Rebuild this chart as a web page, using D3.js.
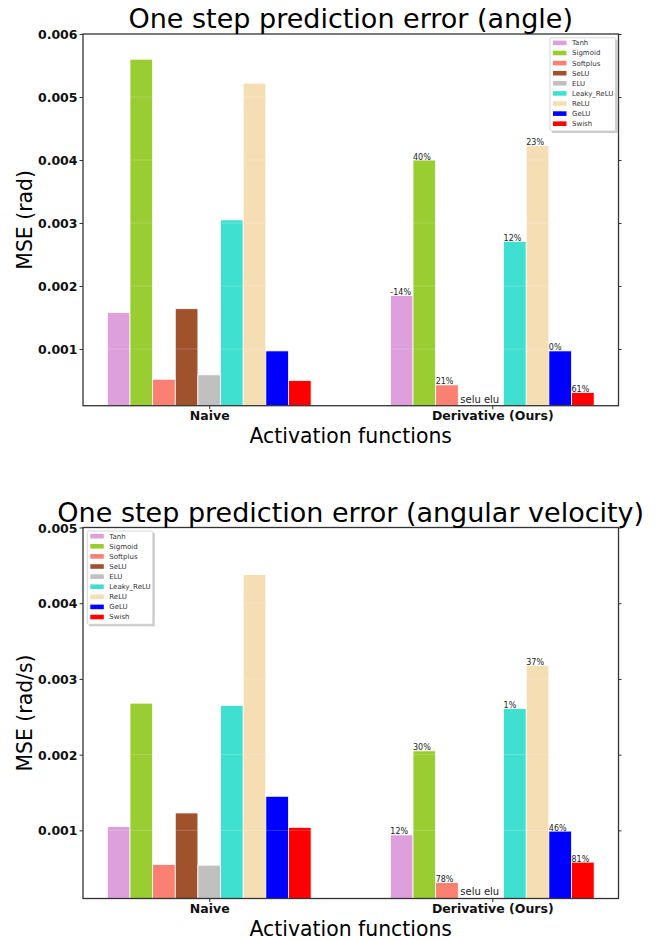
<!DOCTYPE html>
<html>
<head>
<meta charset="utf-8">
<script src="https://cdn.jsdelivr.net/npm/d3@7"></script>
<style>
    body { margin: 0; background: #fff; }
    svg { display: block; font-family: "DejaVu Sans", sans-serif; }
</style>
</head>
<body>
<svg id="chart" width="671" height="940"></svg>
<script>
/**
 * Data.
 */
const activations = ['Tanh', 'Sigmoid', 'Softplus', 'SeLU', 'ELU', 'Leaky_ReLU', 'ReLU', 'GeLU', 'Swish'];
const groups = ['Naive', 'Derivative (Ours)'];

// One step prediction error, angle (rad)
const angleNaive = [0.00158, 0.00560, 0.00052, 0.00164, 0.00059, 0.00305, 0.00522, 0.00097, 0.00050];
const angleDerivative = [0.00185, 0.00400, 0.00043, null, null, 0.00271, 0.00423, 0.00097, 0.00031];
const angleLabels = ['-14%', '40%', '21%', null, null, '12%', '23%', '0%', '61%'];
const angleTicks = [0.001, 0.002, 0.003, 0.004, 0.005, 0.006];

// One step prediction error, angular velocity (rad/s)
const velocityNaive = [0.00105, 0.00268, 0.00055, 0.00123, 0.00054, 0.00265, 0.00438, 0.00145, 0.00104];
const velocityDerivative = [0.00094, 0.00205, 0.00031, null, null, 0.00261, 0.00318, 0.00099, 0.00058];
const velocityLabels = ['12%', '30%', '78%', null, null, '1%', '37%', '46%', '81%'];
const velocityTicks = [0.001, 0.002, 0.003, 0.004, 0.005];

const missingNote = 'selu elu';

/**
 * Visual configs.
 */
const colors = ['plum', 'yellowgreen', 'salmon', 'sienna', 'silver', 'turquoise', 'wheat', 'blue', 'red'];
const barWidth = 0.08; // in group units, matplotlib style
const left = 83, right = 618.5;

const svg = d3.select('#chart');

function drawChart(opts) {
    const g = svg.append('g');
    const top = opts.top, bottom = opts.bottom;

    const x = d3.scaleLinear().domain([-0.446, 1.446]).range([left, right]);
    const y = d3.scaleLinear().domain([0.0001, opts.yMax]).range([bottom, top]);

    // Bars
    const bars = [];
    [opts.naive, opts.derivative].forEach((series, gi) => {
        series.forEach((v, i) => {
            if (v === null) return;
            bars.push({ gi, i, v, label: gi === 1 ? opts.labels[i] : null });
        });
    });
    const barX = d => x(d.gi + (d.i - 4) * barWidth - barWidth / 2);
    const barW = x(barWidth) - x(0);

    g.selectAll('.bar').data(bars).enter().append('rect')
        .attr('class', 'bar')
        .attr('x', barX)
        .attr('y', d => y(d.v))
        .attr('width', barW)
        .attr('height', d => bottom - y(d.v))
        .attr('fill', d => colors[d.i])
        .attr('stroke', '#fff')
        .attr('stroke-width', 0.8);

    // Faint grid over the bars
    g.selectAll('.grid').data(opts.ticks).enter().append('line')
        .attr('x1', left).attr('x2', right)
        .attr('y1', d => y(d)).attr('y2', d => y(d))
        .attr('stroke', '#fff').attr('stroke-opacity', 0.2).attr('stroke-width', 1);

    // Percent labels
    g.selectAll('.pct').data(bars.filter(d => d.label)).enter().append('text')
        .attr('x', barX)
        .attr('y', d => y(d.v) - 0.5)
        .attr('font-size', 8)
        .attr('fill', '#222')
        .text(d => d.label);

    g.append('text')
        .attr('x', x(0.887))
        .attr('y', y(0.00015))
        .attr('font-size', 10)
        .attr('fill', '#222')
        .text(missingNote);

    // Axes
    const yAxis = g.append('g').attr('transform', 'translate(' + left + ',0)')
        .call(d3.axisLeft(y).tickValues(opts.ticks).tickSize(3.5).tickPadding(2).tickFormat(d3.format('.3f')));
    const yAxisRight = g.append('g').attr('transform', 'translate(' + right + ',0)')
        .call(d3.axisRight(y).tickValues(opts.ticks).tickSize(3).tickFormat(''));
    const xAxis = g.append('g').attr('transform', 'translate(0,' + bottom + ')')
        .call(d3.axisBottom(x).tickValues([0, 1]).tickSize(3.5).tickPadding(2).tickFormat(d => groups[d]));

    [yAxis, yAxisRight, xAxis].forEach(a => {
        a.select('.domain').remove();
        a.selectAll('line').attr('stroke', '#333');
        a.selectAll('text').attr('font-size', 12.5).attr('font-weight', 'bold')
            .attr('fill', '#111').attr('font-family', '"DejaVu Sans", sans-serif');
    });
    yAxis.selectAll('text').attr('dy', '0.36em');

    // Frame
    g.append('rect')
        .attr('x', left).attr('y', top)
        .attr('width', right - left).attr('height', bottom - top)
        .attr('fill', 'none').attr('stroke', '#333').attr('stroke-width', 1.3);

    // Titles
    g.append('text')
        .attr('x', (left + right) / 2).attr('y', top - 6)
        .attr('text-anchor', 'middle').attr('font-size', 27).attr('fill', '#000')
        .text(opts.title);
    g.append('text')
        .attr('x', (left + right) / 2).attr('y', bottom + 37)
        .attr('text-anchor', 'middle').attr('font-size', 20.4).attr('fill', '#000')
        .text('Activation functions');
    g.append('text')
        .attr('transform', 'translate(31.5,' + (top + bottom) / 2 + ') rotate(-90)')
        .attr('text-anchor', 'middle').attr('font-size', 20.4).attr('fill', '#000')
        .text(opts.yLabel);

    // Legend
    const lw = 65.5, lh = 93.3, rowH = 10.1;
    const legend = g.append('g').attr('transform', 'translate(' + opts.legendX + ',' + opts.legendY + ')');
    legend.append('rect')
        .attr('x', 2).attr('y', 2).attr('width', lw).attr('height', lh)
        .attr('fill', '#aaa').attr('fill-opacity', 0.6);
    legend.append('rect')
        .attr('width', lw).attr('height', lh).attr('rx', 1.5)
        .attr('fill', '#fff').attr('stroke', '#ccc').attr('stroke-width', 0.8);
    const items = legend.selectAll('.item').data(activations).enter().append('g')
        .attr('transform', (d, i) => 'translate(0,' + (5.2 + i * rowH) + ')');
    items.append('rect')
        .attr('x', 3).attr('y', -2.3).attr('width', 13.5).attr('height', 4.6)
        .attr('fill', (d, i) => colors[i]);
    items.append('text')
        .attr('x', 22).attr('dy', '0.35em')
        .attr('font-size', 7).attr('fill', '#333')
        .text(d => d);
}

drawChart({
    title: 'One step prediction error (angle)',
    yLabel: 'MSE (rad)',
    top: 34, bottom: 405.7, yMax: 0.006,
    naive: angleNaive, derivative: angleDerivative, labels: angleLabels, ticks: angleTicks,
    legendX: 550, legendY: 37.7
});

drawChart({
    title: 'One step prediction error (angular velocity)',
    yLabel: 'MSE (rad/s)',
    top: 527.5, bottom: 898.5, yMax: 0.005,
    naive: velocityNaive, derivative: velocityDerivative, labels: velocityLabels, ticks: velocityTicks,
    legendX: 87.3, legendY: 531
});
</script>
</body>
</html>
